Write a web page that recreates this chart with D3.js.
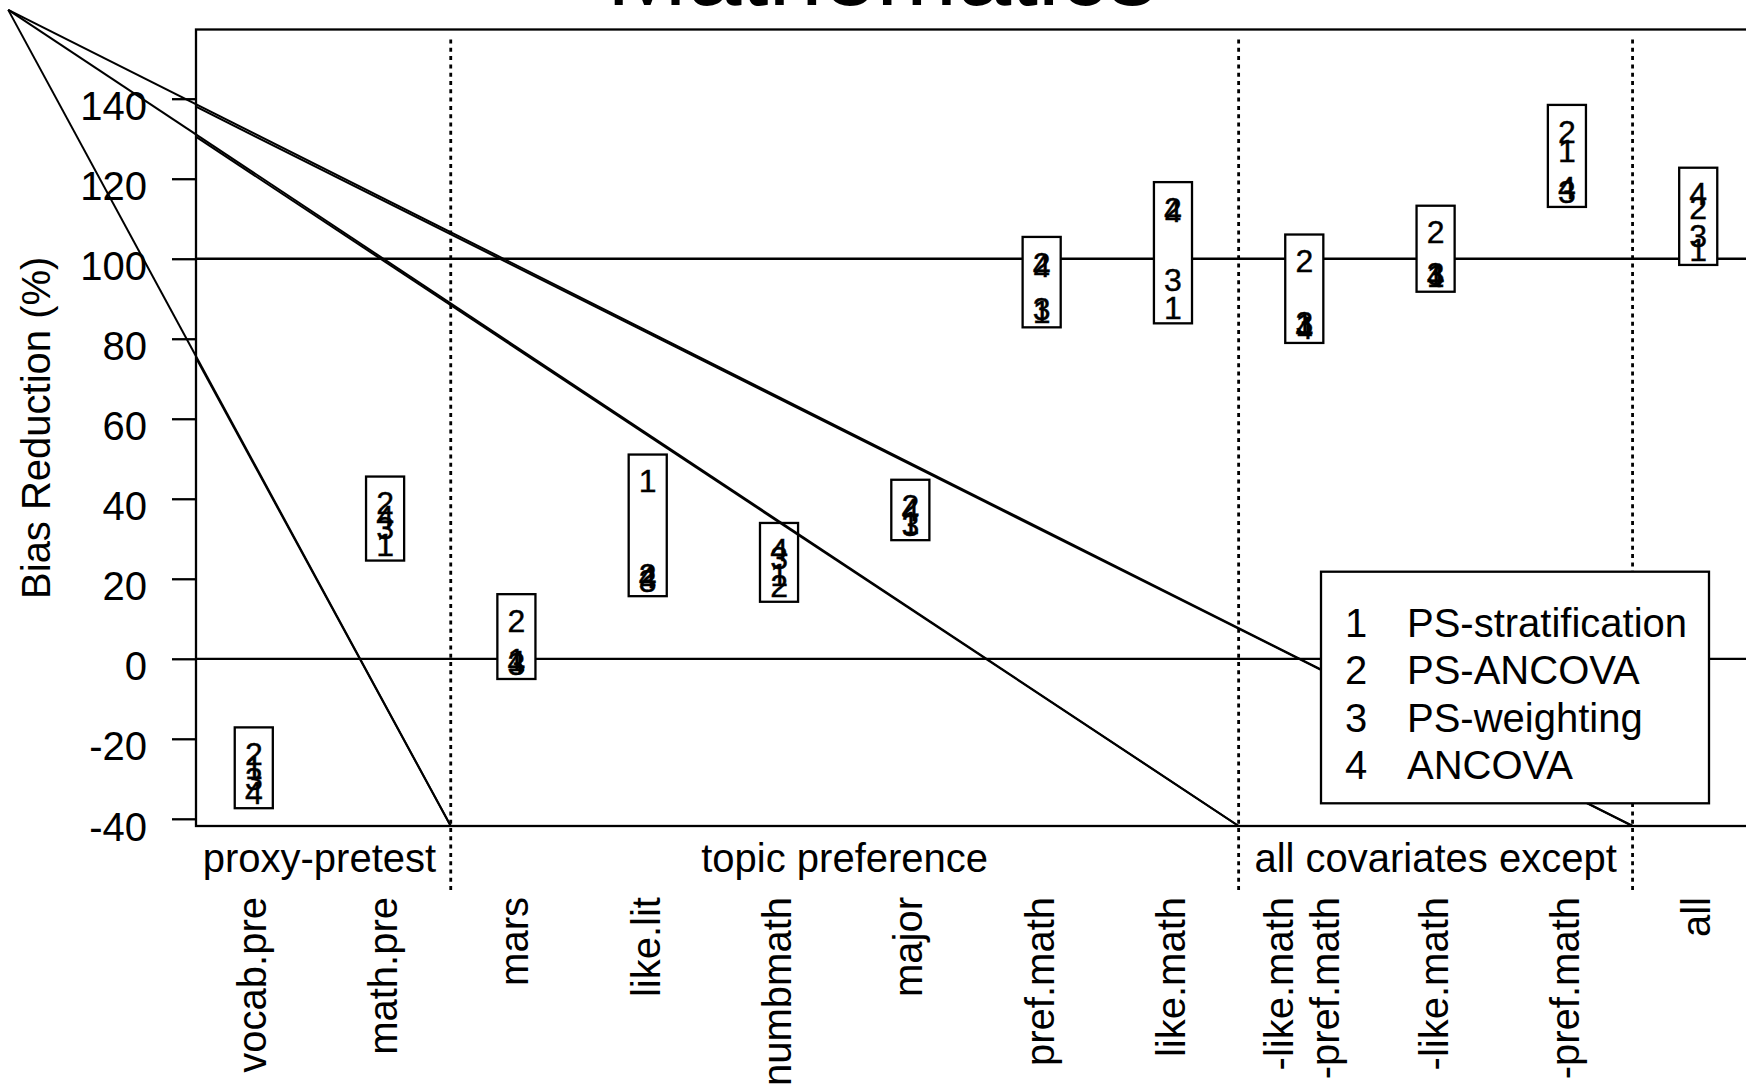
<!DOCTYPE html>
<html>
<head>
<meta charset="utf-8">
<script src="https://cdn.jsdelivr.net/npm/d3@7"></script>
<style>
  html, body { margin: 0; padding: 0; background: #ffffff; overflow: hidden; }
  text { font-family: "Liberation Sans", Arial, Helvetica, sans-serif; fill: #000; }
</style>
</head>
<body>
<svg id="chart" width="1746" height="1085"></svg>
<script>
// Covariate sets (x positions 1..12)
const categories = [
  "vocab.pre", "math.pre", "mars", "like.lit", "numbmath", "major",
  "pref.math", "like.math", "-like.math\n-pref.math", "-like.math", "-pref.math", "all"
];

// Bias reduction (%) per method, one value per covariate set
const psStratification = [-25.9, 29.8, 1.2, 45.8, 22.4, 35.3, 88.1, 89.1, 84.9, 97.2, 128.3, 103.7];
const psAncova         = [-22.4, 40.3, 10.9, 22.4, 19.5, 39.5, 100.2, 113.9, 100.8, 108.0, 133.2, 114.1];
const psWeighting      = [-28.7, 34.1, 0.2, 20.9, 26.6, 34.9, 88.9, 96.2, 85.4, 97.6, 118.2, 107.0];
const ancova           = [-32.1, 36.8, 0.7, 21.9, 28.7, 38.7, 99.6, 113.4, 84.2, 97.0, 119.2, 117.5];

const methodCodes  = ["1", "2", "3", "4"];
const methodLabels = ["PS-stratification", "PS-ANCOVA", "PS-weighting", "ANCOVA"];
const methodSeries = [psStratification, psAncova, psWeighting, ancova];

const yTicks = [-40, -20, 0, 20, 40, 60, 80, 100, 120, 140];
const referenceLines = [0, 100];

// Covariate groups shown under the axis
const groupLabels = ["proxy-pretest", "topic preference", "all covariates except"];
const groupFirst  = [1, 3, 9];
const groupLast   = [2, 8, 11];

// Group separators (x) and their vertical extent (y)
const separators = [2.5, 8.5, 11.5];
const separatorSpan = [-58.2, 154.8];

// Leader lines running from the upper-left corner down to each separator foot
const leaderOrigin = [-0.87, 162.2];
const leaderOriginInner = [-0.87, 161.5];

const titleText = "Mathematics";
const yTitle = "Bias Reduction (%)";

// ---- layout ----
const svg = d3.select("#chart");
const x = d3.scaleLinear().domain([0.56, 12.44]).range([196, 1756]);
const y = d3.scaleLinear().domain([-41.8, 157.3]).range([826, 29.5]);
const boxHalf = 0.145;   // box half-width, x units
const boxPad = 5.25;     // box padding above/below the extreme values, y units
const FS = 40;           // base font size
const FS_CODE = 32;      // in-box method code size
const LW = 2.3;          // standard line width

const [x0, x1] = x.range();
const [yb, yt] = y.range();

svg.append("defs").append("clipPath").attr("id", "plotClip")
  .append("rect").attr("x", x0).attr("y", yt).attr("width", x1 - x0).attr("height", yb - yt);

// Title (partly above the visible area)
svg.append("text")
  .attr("x", 881.7).attr("y", 5)
  .attr("text-anchor", "middle")
  .style("font-size", "97px")
  .text(titleText);

// Reference lines at 0 % and 100 %
svg.append("g").attr("clip-path", "url(#plotClip)")
  .selectAll("line").data(referenceLines).join("line")
  .attr("x1", x0).attr("x2", x1)
  .attr("y1", d => y(d)).attr("y2", d => y(d))
  .attr("stroke", "#000").attr("stroke-width", LW);

// Dotted group separators
svg.append("g").selectAll("line").data(separators).join("line")
  .attr("x1", d => x(d)).attr("x2", d => x(d))
  .attr("y1", y(separatorSpan[1])).attr("y2", y(separatorSpan[0]))
  .attr("stroke", "#000").attr("stroke-width", 2.8)
  .attr("stroke-dasharray", "4 4.3");

// Boxes spanning the four methods, with method codes at their values
const rows = categories.map((c, i) => ({
  pos: i + 1,
  vals: methodSeries.map(s => s[i])
}));

const boxG = svg.append("g").selectAll("g").data(rows).join("g");
boxG.append("rect")
  .attr("x", d => x(d.pos - boxHalf))
  .attr("width", d => x(d.pos + boxHalf) - x(d.pos - boxHalf))
  .attr("y", d => y(d3.max(d.vals) + boxPad))
  .attr("height", d => y(d3.min(d.vals) - boxPad) - y(d3.max(d.vals) + boxPad))
  .attr("fill", "#fff").attr("stroke", "#000").attr("stroke-width", LW);
boxG.selectAll("text")
  .data(d => d.vals.map((v, k) => ({ pos: d.pos, v, code: methodCodes[k] })))
  .join("text")
  .attr("x", d => x(d.pos)).attr("y", d => y(d.v))
  .attr("dy", "0.52em")
  .attr("text-anchor", "middle")
  .attr("stroke", "#000").attr("stroke-width", 0.4)
  .style("font-size", FS_CODE + "px")
  .text(d => d.code);

// Leader lines: full-length strokes plus a second pass inside the plot area
const leaderG = svg.append("g");
leaderG.selectAll("line.outer").data(separators).join("line")
  .attr("class", "outer")
  .attr("x1", x(leaderOrigin[0])).attr("y1", y(leaderOrigin[1]))
  .attr("x2", d => x(d)).attr("y2", y(y.domain()[0]))
  .attr("stroke", "#000").attr("stroke-width", 2);
leaderG.append("g").attr("clip-path", "url(#plotClip)")
  .selectAll("line").data(separators).join("line")
  .attr("x1", x(leaderOriginInner[0])).attr("y1", y(leaderOriginInner[1]))
  .attr("x2", d => x(d)).attr("y2", y(y.domain()[0]))
  .attr("stroke", "#000").attr("stroke-width", 2);

// Plot frame
svg.append("rect")
  .attr("x", x0).attr("y", yt).attr("width", x1 - x0).attr("height", yb - yt)
  .attr("fill", "none").attr("stroke", "#000").attr("stroke-width", LW);

// Y axis
const yAxis = d3.axisLeft(y).tickValues(yTicks).tickSize(24).tickPadding(25).tickFormat(d => String(d));
const yAxisG = svg.append("g").attr("transform", `translate(${x0},0)`).call(yAxis);
yAxisG.select(".domain").remove();
yAxisG.selectAll(".tick line").attr("stroke", "#000").attr("stroke-width", LW);
yAxisG.selectAll(".tick text")
  .attr("dy", "0.53em")
  .style("font-size", FS + "px")
  .style("font-family", "'Liberation Sans', Arial, sans-serif")
  .attr("fill", "#000");

// Y axis title
svg.append("text")
  .attr("transform", `translate(50,${(yt + yb) / 2}) rotate(-90)`)
  .attr("text-anchor", "middle")
  .style("font-size", FS + "px")
  .text(yTitle);

// Group labels
svg.append("g").selectAll("text").data(groupLabels).join("text")
  .attr("x", (d, i) => x((groupFirst[i] + groupLast[i]) / 2))
  .attr("y", 872)
  .attr("text-anchor", "middle")
  .style("font-size", FS + "px")
  .text(d => d);

// Rotated covariate labels
const catG = svg.append("g").selectAll("g").data(categories).join("g")
  .attr("transform", (d, i) => `translate(${x(i + 1)},897) rotate(-90)`);
catG.each(function (d) {
  const lines = d.split("\n");
  const n = lines.length;
  d3.select(this).selectAll("text").data(lines).join("text")
    .attr("x", 0)
    .attr("y", (l, k) => 12 + (k - (n - 1) / 2) * 46)
    .attr("text-anchor", "end")
    .style("font-size", FS + "px")
    .text(l => l);
});

// Legend
const lg = svg.append("g");
lg.append("rect")
  .attr("x", 1321).attr("y", 571.7).attr("width", 388).attr("height", 231.6)
  .attr("fill", "#fff").attr("stroke", "#000").attr("stroke-width", LW);
const lgRows = lg.selectAll("g").data(methodLabels).join("g")
  .attr("transform", (d, i) => `translate(0,${636.5 + i * 47.6})`);
lgRows.append("text")
  .attr("x", 1356).attr("text-anchor", "middle")
  .style("font-size", FS + "px")
  .text((d, i) => methodCodes[i]);
lgRows.append("text")
  .attr("x", 1407)
  .style("font-size", FS + "px")
  .text(d => d);
</script>
</body>
</html>
